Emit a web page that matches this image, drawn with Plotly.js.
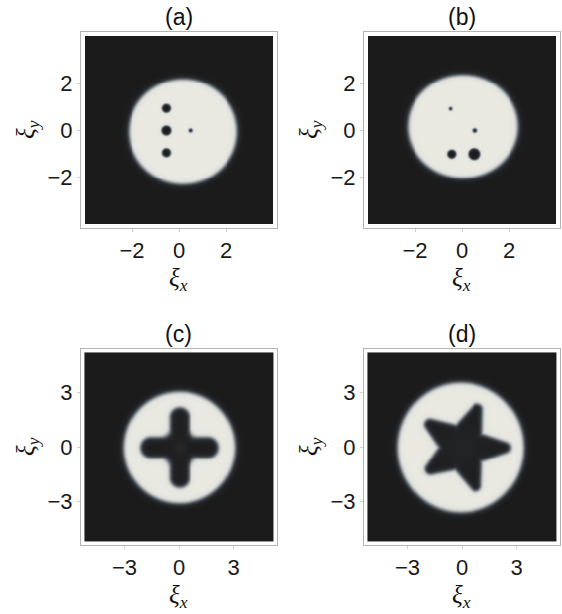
<!DOCTYPE html>
<html>
<head>
<meta charset="utf-8">
<script src="https://cdn.plot.ly/plotly-3.0.1.min.js"></script>
<style>html,body{margin:0;padding:0;background:#fff;}#plot{width:562px;height:614px;}</style>
</head>
<body>
<div id="plot"></div>
<script>
// ---- data ----
const panelLabels = ['(a)', '(b)', '(c)', '(d)'];
const tickValsTop = [-2, 0, 2];
const tickValsBottom = [-3, 0, 3];
const gridHalf = [4, 4, 5.2, 5.2];          // half-width of the computed density window
const frameHalf = [4.17, 4.17, 5.39, 5.39]; // axis range half-width

// condensate cloud (ellipse centre and radii, edge softness)
const cloudCx = [0.15, 0.02, 0.0, -0.1];
const cloudCy = [-0.05, 0.17, 0.0, 0.0];
const cloudRx = [2.32, 2.36, 3.1, 3.5];
const cloudRy = [2.25, 2.21, 3.1, 3.6];
const cloudEdge = [0.13, 0.13, 0.17, 0.17];

// panel (a) vortices
const vortAx = [-0.55, -0.55, -0.55, 0.47];
const vortAy = [0.94, 0.0, -0.94, 0.0];
const vortAr = [0.18, 0.2, 0.18, 0.07];
// panel (b) vortices
const vortBx = [-0.5, 0.52, -0.45, 0.5];
const vortBy = [0.92, 0.0, -1.0, -1.0];
const vortBr = [0.06, 0.08, 0.18, 0.24];

// panel (c) cross-shaped hole: arm tips and arm half-width
const crossTipX = [2.15, 0.0, -2.15, 0.0];
const crossTipY = [0.0, 2.2, 0.0, -2.2];
const crossHalfW = [0.57, 0.53, 0.57, 0.53];

// panel (d) star-shaped hole: arm tips
const starTipX = [2.65, 0.92, -2.05, -2.02, 0.82];
const starTipY = [0.0, 2.38, 1.45, -1.35, -2.38];
const starInner = 0.95;
const starTipRound = 0.3;

// ---- density model built from the arrays above ----
function cloud(i, x, y) {
  const dx = (x - cloudCx[i]) / cloudRx[i], dy = (y - cloudCy[i]) / cloudRy[i];
  const rho = Math.sqrt(dx * dx + dy * dy);
  const meanR = 0.5 * (cloudRx[i] + cloudRy[i]);
  return 0.5 * (1 + Math.tanh((1 - rho) * meanR / cloudEdge[i]));
}
function vortices(xs, ys, rs, x, y) {
  let f = 1;
  for (let k = 0; k < xs.length; k++) {
    const d = Math.hypot(x - xs[k], y - ys[k]);
    f *= 0.5 * (1 + Math.tanh((d - rs[k]) / 0.06));
  }
  return f;
}
function segDist(px, py, ax, ay, bx, by) {
  const vx = bx - ax, vy = by - ay;
  let t = ((px - ax) * vx + (py - ay) * vy) / (vx * vx + vy * vy);
  t = Math.max(0, Math.min(1, t));
  return Math.hypot(px - ax - t * vx, py - ay - t * vy);
}
function smin(a, b, k) {
  const h = Math.max(k - Math.abs(a - b), 0) / k;
  return Math.min(a, b) - h * h * k * 0.25;
}
function crossSdf(x, y) {
  let d = 1e9;
  for (let k = 0; k < crossTipX.length; k++) {
    const L = Math.hypot(crossTipX[k], crossTipY[k]);
    const ex = crossTipX[k] * (L - crossHalfW[k]) / L, ey = crossTipY[k] * (L - crossHalfW[k]) / L;
    const dk = segDist(x, y, 0, 0, ex, ey) - crossHalfW[k];
    d = k === 0 ? dk : smin(d, dk, 0.5);
  }
  return d;
}
// star polygon
const starPoly = (function () {
  const n = starTipX.length, pts = [];
  const ang = starTipX.map((v, k) => Math.atan2(starTipY[k], v));
  for (let k = 0; k < n; k++) {
    const r = Math.hypot(starTipX[k], starTipY[k]) - starTipRound;
    pts.push([r * Math.cos(ang[k]), r * Math.sin(ang[k])]);
    const a1 = ang[k];
    let diff = ang[(k + 1) % n] - a1;
    while (diff < 0) diff += 2 * Math.PI;
    const am = a1 + diff / 2;
    pts.push([starInner * Math.cos(am), starInner * Math.sin(am)]);
  }
  return pts;
})();
function polySdf(pts, x, y) {
  let d = 1e9, inside = false;
  for (let i = 0, j = pts.length - 1; i < pts.length; j = i++) {
    const [xi, yi] = pts[i], [xj, yj] = pts[j];
    d = Math.min(d, segDist(x, y, xj, yj, xi, yi));
    if ((yi > y) !== (yj > y) && x < (xj - xi) * (y - yi) / (yj - yi) + xi) inside = !inside;
  }
  return inside ? -d : d;
}
function starSdf(x, y) { return polySdf(starPoly, x, y) - starTipRound; }

function density(i, x, y) {
  let n = cloud(i, x, y);
  if (i === 0) n *= vortices(vortAx, vortAy, vortAr, x, y);
  if (i === 1) n *= vortices(vortBx, vortBy, vortBr, x, y);
  if (i === 2) {
    const s = crossSdf(x, y);
    const floor = 0.03 + 0.09 * Math.exp(-(x * x + y * y) / 0.15);
    n *= floor + (1 - floor) * 0.5 * (1 + Math.tanh(s / 0.16));
  }
  if (i === 3) {
    const s = starSdf(x, y);
    const floor = 0.03 + 0.06 * Math.exp(-(x * x + y * y) / 1.2);
    n *= floor + (1 - floor) * 0.5 * (1 + Math.tanh(s / 0.15));
  }
  return n;
}

const N = 190;
const traces = [];
for (let i = 0; i < 4; i++) {
  const h = gridHalf[i], d = 2 * h / N;
  const z = [];
  for (let r = 0; r < N; r++) {
    const y = -h + d * (r + 0.5);
    const row = [];
    for (let c = 0; c < N; c++) row.push(density(i, -h + d * (c + 0.5), y));
    z.push(row);
  }
  traces.push({
    type: 'heatmap', z: z, x0: -h + d / 2, dx: d, y0: -h + d / 2, dy: d,
    xaxis: i === 0 ? 'x' : 'x' + (i + 1), yaxis: i === 0 ? 'y' : 'y' + (i + 1),
    zmin: 0, zmax: 1, showscale: false, zsmooth: 'best', hoverinfo: 'skip',
    colorscale: [[0, '#1b1b1b'], [0.2, '#2c3034'], [0.45, '#5f676d'], [0.7, '#a9aeb0'], [0.88, '#dcdeda'], [1, '#e9e9e2']]
  });
}

const W = 562, H = 614;
const colX = [[81, 277], [364, 560]];
const rowY = [[32, 228], [349, 545]];
function axis(dom, half, ticks, anchor) {
  return {
    domain: dom, range: [-half, half], anchor: anchor, tickvals: ticks,
    showline: true, mirror: true, linecolor: '#b4b4b4', linewidth: 1,
    ticks: 'outside', ticklen: 3, tickcolor: '#cfcfcf', showgrid: false, zeroline: false,
    tickfont: { family: 'Liberation Sans, Arial, sans-serif', size: 22, color: '#1a1a1a' },
    fixedrange: true
  };
}
const layout = {
  width: W, height: H, margin: { l: 0, r: 0, t: 0, b: 0 },
  paper_bgcolor: '#ffffff', plot_bgcolor: '#ffffff', showlegend: false,
  annotations: []
};
for (let i = 0; i < 4; i++) {
  const cx = colX[i % 2], ry = rowY[Math.floor(i / 2)];
  const suf = i === 0 ? '' : String(i + 1);
  const ticks = i < 2 ? tickValsTop : tickValsBottom;
  layout['xaxis' + suf] = axis([cx[0] / W, cx[1] / W], frameHalf[i], ticks, 'y' + suf);
  layout['yaxis' + suf] = axis([1 - ry[1] / H, 1 - ry[0] / H], frameHalf[i], ticks, 'x' + suf);
  const midX = (cx[0] + cx[1]) / 2, midY = (ry[0] + ry[1]) / 2;
  layout.annotations.push({
    text: panelLabels[i], xref: 'paper', yref: 'paper', x: midX / W, y: 1 - (ry[0] - 15) / H,
    xanchor: 'center', yanchor: 'middle', showarrow: false,
    font: { family: 'Liberation Sans, Arial, sans-serif', size: 23, color: '#111' }
  });
  layout.annotations.push({
    text: '<i>ξ<sub>x</sub></i>', xref: 'paper', yref: 'paper',
    x: (midX - 1) / W, y: 1 - (ry[1] + 51) / H, xanchor: 'center', yanchor: 'middle', showarrow: false,
    font: { family: 'Liberation Serif, Times New Roman, serif', size: 25, color: '#111' }
  });
  layout.annotations.push({
    text: '<i>ξ<sub>y</sub></i>', xref: 'paper', yref: 'paper',
    x: (cx[0] - 54) / W, y: 1 - midY / H, xanchor: 'center', yanchor: 'middle', textangle: -90, showarrow: false,
    font: { family: 'Liberation Serif, Times New Roman, serif', size: 25, color: '#111' }
  });
}
Plotly.newPlot('plot', traces, layout, { displayModeBar: false, staticPlot: true });
</script>
</body>
</html>
